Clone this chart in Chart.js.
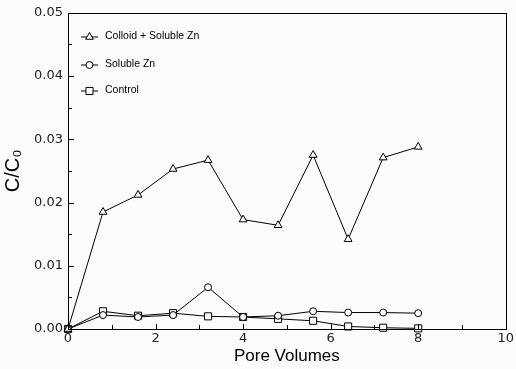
<!DOCTYPE html>
<html>
<head>
<meta charset="utf-8">
<title>C/C0 vs Pore Volumes</title>
<script src="https://cdn.jsdelivr.net/npm/chart.js@4.4.0/dist/chart.umd.min.js"></script>
<style>
  html, body { margin: 0; padding: 0; background: #fcfcfc; overflow: hidden; }
  #wrap { position: relative; width: 516px; height: 369px; }
</style>
</head>
<body>
<div id="wrap"><canvas id="grafico"></canvas></div>
<script>
// datos
var poreVolumes = [0, 0.8, 1.6, 2.4, 3.2, 4.0, 4.8, 5.6, 6.4, 7.2, 8.0];
var colloidZn   = [0, 0.0185, 0.0212, 0.0253, 0.0267, 0.0173, 0.0164, 0.0275, 0.0142, 0.0271, 0.0288];
var solubleZn   = [0, 0.0022, 0.0019, 0.0022, 0.0066, 0.0019, 0.0021, 0.0028, 0.0026, 0.0026, 0.0025];
var control     = [0, 0.0028, 0.0021, 0.0025, 0.0020, 0.0019, 0.0016, 0.0013, 0.0004, 0.0002, 0.0001];
var seriesNames = ['Colloid + Soluble Zn', 'Soluble Zn', 'Control'];
var xTicks = [0, 2, 4, 6, 8, 10];
var yTicks = [0, 0.01, 0.02, 0.03, 0.04, 0.05];

function puntos(valores) {
  var out = [];
  for (var i = 0; i < poreVolumes.length; i++) {
    out.push({x: poreVolumes[i], y: valores[i]});
  }
  return out;
}

function serie(nombre, valores, estilo, radio) {
  return {
    label: nombre,
    data: puntos(valores),
    showLine: true,
    borderColor: '#000',
    borderWidth: 1,
    pointStyle: estilo,
    pointRadius: radio,
    pointBackgroundColor: '#fcfcfc',
    pointBorderColor: '#000',
    pointBorderWidth: 1,
    clip: false
  };
}

// marco completo, ticks hacia adentro y leyenda dentro del grafico
var marcoPlugin = {
  id: 'marco',
  afterDraw: function(chart) {
    var ctx = chart.ctx;
    var a = chart.chartArea;
    var xs = chart.scales.x, ys = chart.scales.y;
    ctx.save();
    ctx.strokeStyle = '#000';
    ctx.lineWidth = 1;
    ctx.strokeRect(Math.round(a.left) + 0.5, Math.round(a.top) + 0.5,
                   Math.round(a.right - a.left), Math.round(a.bottom - a.top));
    ctx.beginPath();
    // eje y: mayores cada 0.01, menores cada 0.005
    for (var i = 0; i < yTicks.length; i++) {
      var py = Math.round(ys.getPixelForValue(yTicks[i])) + 0.5;
      ctx.moveTo(a.left, py); ctx.lineTo(a.left + 6, py);
      if (i < yTicks.length - 1) {
        var pm = Math.round(ys.getPixelForValue((yTicks[i] + yTicks[i + 1]) / 2)) + 0.5;
        ctx.moveTo(a.left, pm); ctx.lineTo(a.left + 4, pm);
      }
    }
    // eje x: mayores cada 2, menores cada 1
    for (var j = 0; j < xTicks.length; j++) {
      var px = Math.round(xs.getPixelForValue(xTicks[j])) + 0.5;
      ctx.moveTo(px, a.bottom); ctx.lineTo(px, a.bottom - 5);
      if (j < xTicks.length - 1) {
        var qm = Math.round(xs.getPixelForValue((xTicks[j] + xTicks[j + 1]) / 2)) + 0.5;
        ctx.moveTo(qm, a.bottom); ctx.lineTo(qm, a.bottom - 4);
      }
    }
    ctx.stroke();

    // leyenda
    var filas = [36.5, 64.5, 90.5];
    ctx.font = '10.5px "Liberation Sans", Arial, sans-serif';
    ctx.textBaseline = 'middle';
    ctx.textAlign = 'left';
    chart.data.datasets.forEach(function(ds, k) {
      var y = filas[k];
      ctx.beginPath();
      ctx.moveTo(81, y + 0.5); ctx.lineTo(98, y + 0.5);
      ctx.stroke();
      ctx.fillStyle = '#fcfcfc';
      ctx.strokeStyle = '#000';
      Chart.helpers.drawPoint(ctx, {pointStyle: ds.pointStyle, radius: ds.pointRadius, rotation: 0, borderWidth: 1}, 89.5, y + 0.5);
      ctx.fillStyle = '#000';
      ctx.fillText(ds.label, 105, y);
    });
    ctx.restore();
  }
};

var ctx = document.getElementById('grafico').getContext('2d');
new Chart(ctx, {
  type: 'scatter',
  data: {
    datasets: [
      serie(seriesNames[0], colloidZn, 'triangle', 4.5),
      serie(seriesNames[1], solubleZn, 'circle', 3.5),
      serie(seriesNames[2], control, 'rect', 5)
    ]
  },
  options: {
    responsive: true,
    maintainAspectRatio: false,
    animation: false,
    layout: { padding: { top: 11, right: 9, left: 0, bottom: 0 } },
    plugins: {
      legend: { display: false },
      tooltip: { enabled: false }
    },
    scales: {
      x: {
        type: 'linear',
        min: 0, max: 10,
        afterFit: function(s) { s.height = 40; },
        grid: { display: false, drawTicks: false },
        border: { display: false },
        ticks: {
          stepSize: 2, padding: 2, color: '#222',
          font: { family: '"DejaVu Sans"', size: 13 }
        },
        title: {
          display: true, text: 'Pore Volumes', color: '#000',
          padding: { top: 0, bottom: 2 },
          font: { family: '"Liberation Sans", Arial', size: 17 }
        }
      },
      y: {
        min: 0, max: 0.05,
        afterFit: function(s) { s.width = 68; },
        grid: { display: false, drawTicks: false },
        border: { display: false },
        ticks: {
          stepSize: 0.01, padding: 5, color: '#222',
          font: { family: '"DejaVu Sans"', size: 13 },
          callback: function(v) { return v.toFixed(2); }
        },
        title: {
          display: true, text: 'C/C₀', color: '#000',
          padding: { top: 1, bottom: 0 },
          font: { family: '"Liberation Sans", Arial', size: 20 }
        }
      }
    }
  },
  plugins: [marcoPlugin]
});
</script>
</body>
</html>
